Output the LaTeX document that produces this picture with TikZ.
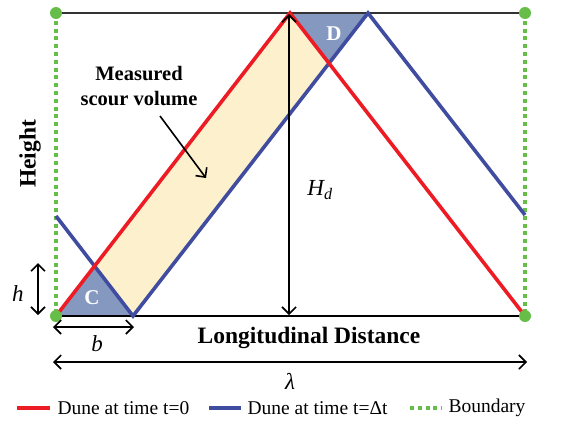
\documentclass[tikz,border=0pt]{standalone}
\usepackage{fontspec}
\setmainfont{Liberation Serif}
\usetikzlibrary{arrows.meta}
\definecolor{dred}{RGB}{237,28,36}
\definecolor{dblue}{RGB}{63,76,160}
\definecolor{tfill}{RGB}{132,152,192}
\definecolor{yfill}{RGB}{252,241,204}
\definecolor{bgreen}{RGB}{102,190,72}
\tikzset{
  redline/.style={dred,line width=3.6pt},
  blueline/.style={dblue,line width=3.6pt},
  bound/.style={bgreen,line width=4pt,dash pattern=on 4pt off 3.8pt},
  frame/.style={black!80,line width=1.6pt},
  barb/.style={Straight Barb[length=7pt,width=14pt,line width=1.6pt]},
  dimarrow/.style={black,line width=1.6pt,{Straight Barb[length=7pt,width=14pt]}-{Straight Barb[length=7pt,width=14pt]}},
  lab/.style={font=\fontsize{23.5}{26}\selectfont\bfseries},
  mathlab/.style={font=\fontsize{23}{24}\selectfont\itshape},
  leg/.style={font=\fontsize{19.5}{21}\selectfont, anchor=west},
  tri/.style={font=\fontsize{21}{22}\selectfont\bfseries, text=white},
  gdot/.style={circle,fill=bgreen,inner sep=0pt,minimum size=12pt}
}
\begin{document}
\begin{tikzpicture}[x=1pt,y=-1pt]
\useasboundingbox (0,0) rectangle (564,426);
% key coordinates
\coordinate (TL) at (56,13);
\coordinate (TR) at (525,13);
\coordinate (BL) at (56,316);
\coordinate (BR) at (525,316);
\coordinate (Rpk) at (290,13);
\coordinate (Bpk) at (368,13);
\coordinate (Bb) at (133,316);
\coordinate (BlL) at (56,216);
\coordinate (BlR) at (525,215);
\coordinate (Ci) at (94.5,266.5);
\coordinate (Di) at (329,63);
% fills
\fill[yfill] (Ci) -- (Rpk) -- (Di) -- (Bb) -- cycle;
\fill[tfill] (BL) -- (Ci) -- (Bb) -- cycle;
\fill[tfill] (Rpk) -- (Bpk) -- (Di) -- cycle;
% frame lines
\draw[frame] (TL) -- (TR);
\draw[black,line width=1.6pt] (BL) -- (BR);
% boundaries
\draw[bound] (TL) -- (BL);
\draw[bound] (TR) -- (BR);
% dunes
\draw[blueline,line join=miter] (BlL) -- (Bb) -- (Bpk) -- (BlR);
\draw[redline,line join=miter] (BL) -- (Rpk) -- (BR);
% green dots
\node[gdot] (g1) at (TL) {};
\node[gdot] (g2) at (TR) {};
\node[gdot] (g3) at (BL) {};
\node[gdot] (g4) at (BR) {};
% triangle labels
\node[tri] (C) at (92,298) {C};
\node[tri] (D) at (334,34) {D};
% H_d arrow
\coordinate (Ht) at (289,14);
\coordinate (Hb) at (289,315);
\draw[dimarrow] (Ht) -- (Hb);
\node[mathlab] (Hd) at (320,190) {H\textsubscript{d}};
% h arrow
\coordinate (ht) at (38,263);
\coordinate (hb) at (38,315);
\draw[dimarrow] (ht) -- (hb);
\node[mathlab] (hl) at (18,294) {h};
% b arrow
\coordinate (bl) at (53,327);
\coordinate (br) at (134,327);
\draw[dimarrow] (bl) -- (br);
\node[mathlab] (blab) at (97,344) {b};
% lambda arrow
\coordinate (ll) at (53,362);
\coordinate (lr) at (527,362);
\draw[dimarrow] (ll) -- (lr);
\node[mathlab] (lam) at (290,381) {λ};
% axis labels
\node[lab] (xl) at (309,338) {Longitudinal Distance};
\node[lab,rotate=90] (yl) at (30,154) {Height};
% measured
\node[font=\fontsize{20.5}{25}\selectfont\bfseries,align=center] (ms) at (139,86) {Measured\\scour volume};
\coordinate (ma) at (160,116);
\coordinate (mb) at (206,178);
\draw[black,line width=1.6pt,-{Straight Barb[length=7pt,width=14pt]}] (ma) -- (mb);
% legend
\coordinate (l1a) at (17,408); \coordinate (l1b) at (50,408);
\draw[redline] (l1a) -- (l1b);
\node[leg] (t1) at (54,408) {Dune at time t=0};
\coordinate (l2a) at (209,408); \coordinate (l2b) at (241,408);
\draw[blueline] (l2a) -- (l2b);
\node[leg] (t2) at (244,408) {Dune at time t=Δt};
\coordinate (l3a) at (410,408); \coordinate (l3b) at (442,408);
\draw[bound] (l3a) -- (l3b);
\node[leg] (t3) at (445,408) {Boundary};
\end{tikzpicture}
\end{document}
